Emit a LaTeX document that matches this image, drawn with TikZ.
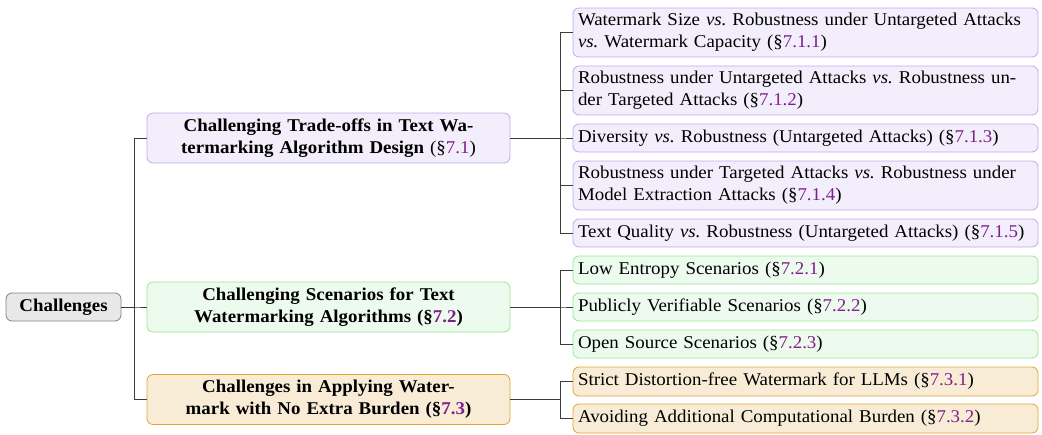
\documentclass[tikz,border=0pt]{standalone}
\usepackage{fontspec}
\setmainfont{Liberation Serif}[FakeStretch=1.05]
\definecolor{lnk}{RGB}{128,30,140}
\definecolor{pfill}{RGB}{243,238,251}
\definecolor{pdraw}{RGB}{198,166,238}
\definecolor{gfill}{RGB}{237,251,238}
\definecolor{gdraw}{RGB}{150,232,150}
\definecolor{ofill}{RGB}{248,236,214}
\definecolor{odraw}{RGB}{226,163,50}
\definecolor{rfill}{RGB}{232,232,232}
\definecolor{rdraw}{RGB}{130,130,130}
\definecolor{edge}{RGB}{60,60,60}
\newcommand{\secref}[1]{(\S\textcolor{lnk}{#1})}
\tikzset{
  box/.style={rounded corners=6pt, line width=0.8pt, font=\fontsize{18}{22}\selectfont, inner xsep=5pt, inner ysep=2pt},
  leaf/.style={box, minimum width=465pt, text width=455pt, align=left},
  mid/.style={box, minimum width=363pt, minimum height=50pt, text width=350pt, align=center, font=\fontsize{18}{22}\selectfont\bfseries},
  P/.style={fill=pfill, draw=pdraw},
  G/.style={fill=gfill, draw=gdraw},
  O/.style={fill=ofill, draw=odraw},
  conn/.style={draw=edge, line width=0.9pt},
}
\begin{document}
\frenchspacing
\begin{tikzpicture}[x=1pt,y=-1pt]
\useasboundingbox (0,0) rectangle (1042,434);
% root
\node[box, fill=rfill, draw=rdraw, minimum width=115pt, minimum height=28pt, font=\fontsize{18}{22}\selectfont\bfseries] (root) at (63.5,307) {Challenges};
% level 1
\node[mid, P] (c1) at (328.5,138) {Challenging Trade-offs in Text Wa-\\termarking Algorithm Design \textmd{\secref{7.1}}};
\node[mid, G] (c2) at (328.5,307) {Challenging Scenarios for Text\\Watermarking Algorithms \secref{7.2}};
\node[mid, O] (c3) at (328.5,399.5) {Challenges in Applying Water-\\mark with No Extra Burden \secref{7.3}};
% leaves
\node[leaf, P, minimum height=49pt] (l11) at (805.5,32.5) {Watermark Size \textit{vs.} Robustness under Untargeted Attacks\\\textit{vs.} Watermark Capacity \secref{7.1.1}};
\node[leaf, P, minimum height=49pt] (l12) at (805.5,90.5) {Robustness under Untargeted Attacks \textit{vs.} Robustness un-\\der Targeted Attacks \secref{7.1.2}};
\node[leaf, P, minimum height=28pt] (l13) at (805.5,138) {Diversity \textit{vs.} Robustness (Untargeted Attacks) \secref{7.1.3}};
\node[leaf, P, minimum height=49pt] (l14) at (805.5,185.5) {Robustness under Targeted Attacks \textit{vs.} Robustness under\\Model Extraction Attacks \secref{7.1.4}};
\node[leaf, P, minimum height=28pt] (l15) at (805.5,233) {Text Quality \textit{vs.} Robustness (Untargeted Attacks) \secref{7.1.5}};
\node[leaf, G, minimum height=28pt] (l21) at (805.5,270) {Low Entropy Scenarios \secref{7.2.1}};
\node[leaf, G, minimum height=28pt] (l22) at (805.5,307) {Publicly Verifiable Scenarios \secref{7.2.2}};
\node[leaf, G, minimum height=28pt] (l23) at (805.5,344) {Open Source Scenarios \secref{7.2.3}};
\node[leaf, O, minimum height=29pt] (l31) at (805.5,381.5) {Strict Distortion-free Watermark for LLMs \secref{7.3.1}};
\node[leaf, O, minimum height=29pt] (l32) at (805.5,418.5) {Avoiding Additional Computational Burden \secref{7.3.2}};
% connectors
\foreach \c in {c1,c2,c3}
  \draw[conn] (root.east) -- ++(13,0) |- (\c.west);
\foreach \l in {l11,l12,l13,l14,l15}
  \draw[conn] (c1.east) -- ++(50,0) |- (\l.west);
\foreach \l in {l21,l22,l23}
  \draw[conn] (c2.east) -- ++(50,0) |- (\l.west);
\foreach \l in {l31,l32}
  \draw[conn] (c3.east) -- ++(50,0) |- (\l.west);
\end{tikzpicture}
\end{document}
